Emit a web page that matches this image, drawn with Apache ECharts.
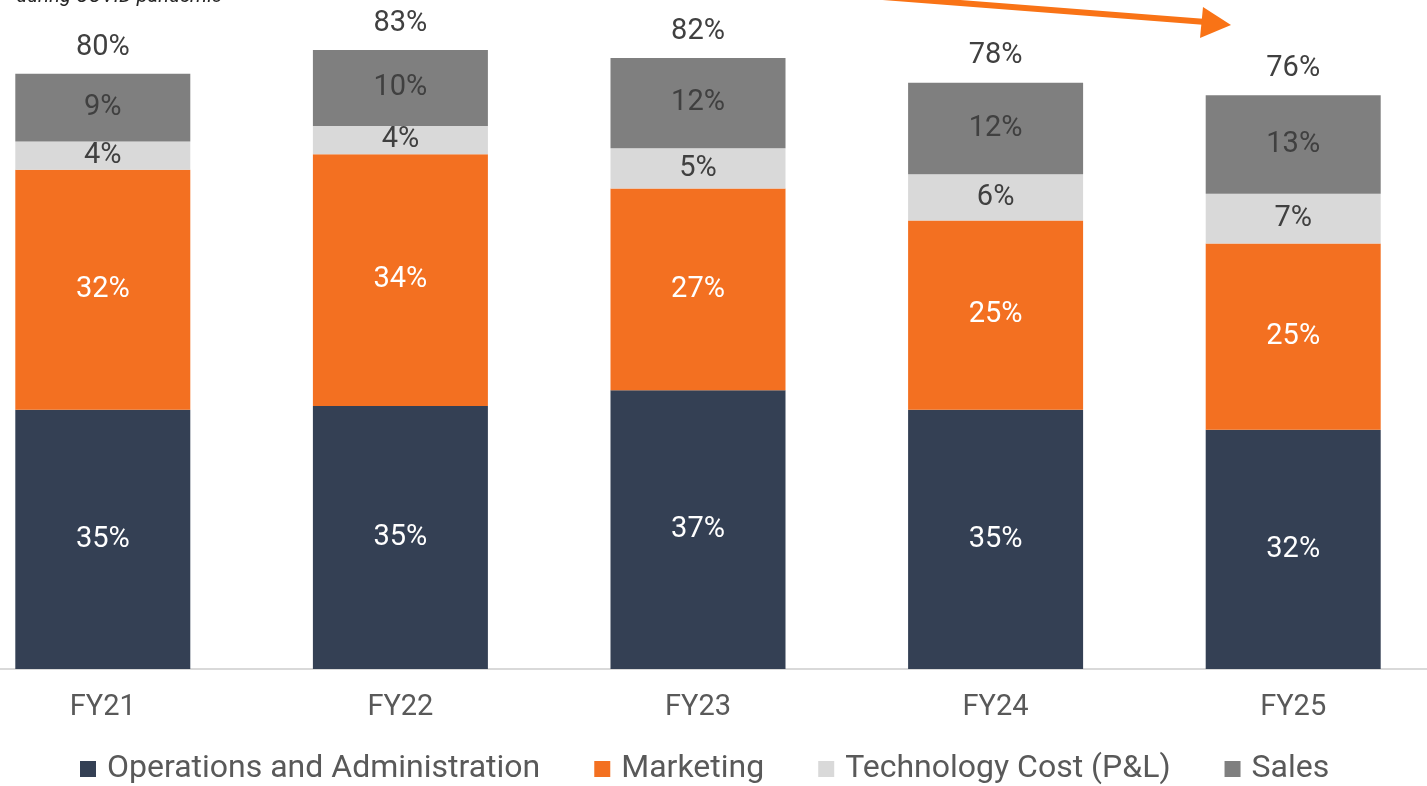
<!DOCTYPE html>
<html>
<head>
<meta charset="utf-8">
<script src="https://cdn.jsdelivr.net/npm/echarts@6/dist/echarts.min.js"></script>
<style>
html,body{margin:0;padding:0;background:#fff;overflow:hidden;width:1427px;height:786px;position:relative;}
#chart{position:absolute;left:-46px;top:0;width:1488px;height:786px;}
</style>
</head>
<body>
<div id="chart"></div>
<script>
const categories = ['FY21', 'FY22', 'FY23', 'FY24', 'FY25'];
const operations = [34.8, 35.3, 37.4, 34.8, 32.1];
const marketing = [32.2, 33.8, 27.1, 25.4, 25.0];
const technology = [3.8, 3.8, 5.4, 6.2, 6.7];
const sales = [9.1, 10.2, 12.1, 12.3, 13.2];
const totals = [80, 83, 82, 78, 76];
const seriesNames = ['Operations and Administration', 'Marketing', 'Technology Cost (P&L)', 'Sales'];

const FONT = 'Roboto';
const OFF = 46; // container is shifted left by this much
const chart = echarts.init(document.getElementById('chart'));

function seg(name, data, color, labelColor) {
  return {
    name: name, type: 'bar', stack: 'total', data: data, barWidth: 175,
    itemStyle: { color: color },
    label: {
      show: true, position: 'inside', color: labelColor,
      fontFamily: FONT, fontSize: 29,
      formatter: p => Math.round(p.value) + '%'
    }
  };
}

chart.setOption({
  animation: false,
  grid: { left: 0, right: 0, top: 0, bottom: 117, containLabel: false },
  xAxis: {
    type: 'category', data: categories,
    axisLine: { show: true, lineStyle: { color: '#d9d9d9', width: 2 } },
    axisTick: { show: false },
    axisLabel: { color: '#595959', fontFamily: FONT, fontSize: 29, margin: 24 }
  },
  yAxis: { type: 'value', min: 0, max: 89.8, show: false, splitLine: { show: false } },
  legend: {
    data: seriesNames, left: 80 + OFF, top: 753, padding: 0,
    itemWidth: 16, itemHeight: 16, itemGap: 54, icon: 'rect',
    textStyle: { color: '#595959', fontFamily: FONT, fontSize: 32, padding: [0, 0, 0, 6] }
  },
  series: [
    seg(seriesNames[0], operations, '#344054', '#ffffff'),
    seg(seriesNames[1], marketing, '#F37021', '#ffffff'),
    seg(seriesNames[2], technology, '#D9D9D9', '#404040'),
    seg(seriesNames[3], sales, '#7F7F7F', '#404040'),
    {
      name: 'Total', type: 'bar', stack: 'total', data: totals.map(() => 0), barWidth: 175,
      itemStyle: { color: 'transparent' },
      label: {
        show: true, position: 'top', distance: 12, color: '#404040',
        fontFamily: FONT, fontSize: 29,
        formatter: p => totals[p.dataIndex] + '%'
      }
    }
  ],
  graphic: [
    {
      type: 'text', x: 222 + OFF, y: -3,
      style: { text: 'during COVID pandemic', fill: '#262626', font: 'italic 20px Roboto', textAlign: 'right', textVerticalAlign: 'middle' }
    },
    {
      type: 'polyline',
      shape: { points: [[650 + OFF, -21], [1206 + OFF, 22]] },
      style: { stroke: '#F97316', lineWidth: 6, fill: null }
    },
    {
      type: 'polygon',
      shape: { points: [[1203 + OFF, 7], [1231 + OFF, 25], [1200 + OFF, 38]] },
      style: { fill: '#F97316' }
    }
  ]
});
</script>
</body>
</html>
